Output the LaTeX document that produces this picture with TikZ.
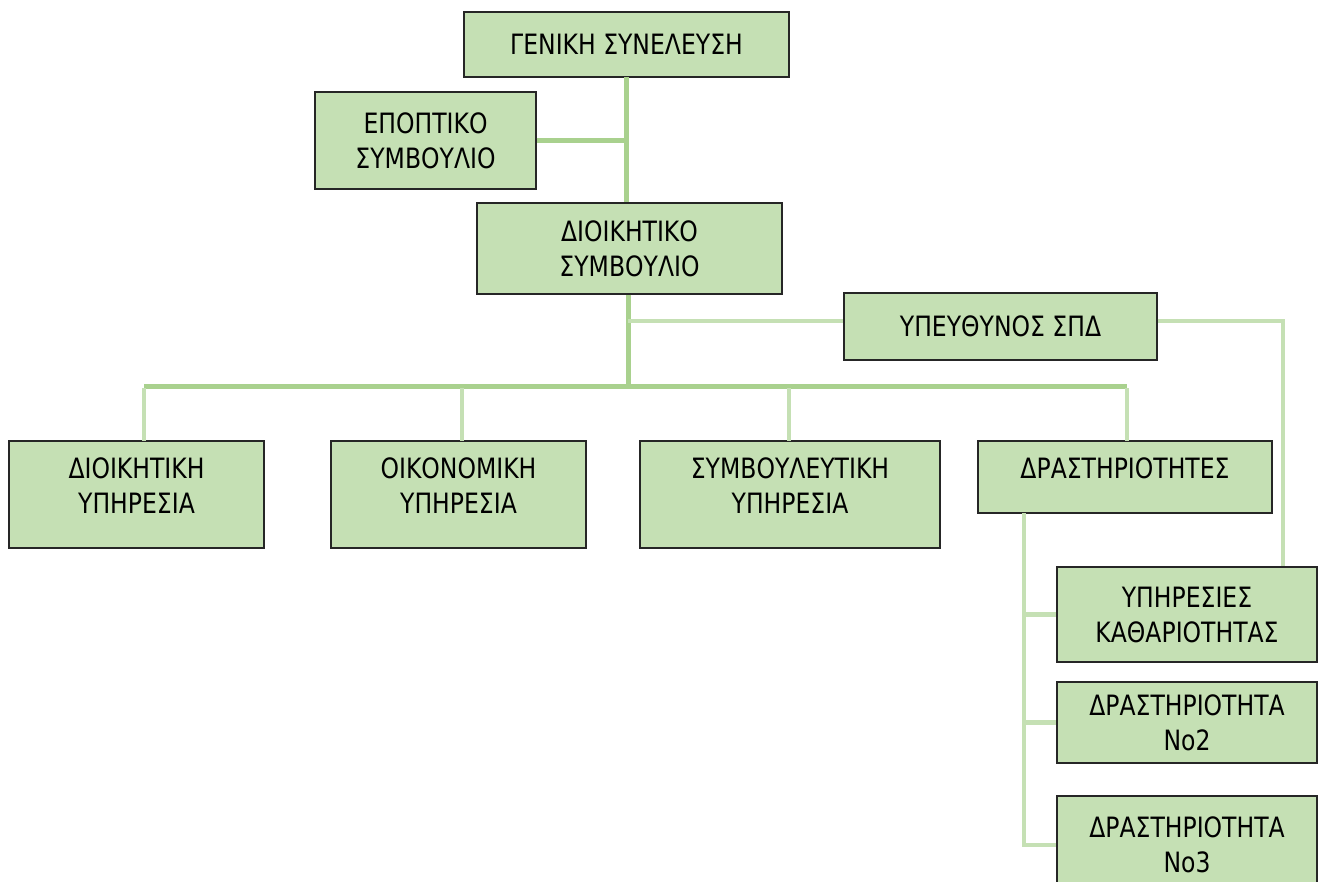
\documentclass[tikz,border=0pt]{standalone}
\usepackage{fontspec}
\setmainfont{DejaVu Sans}[FakeStretch=0.84]
\usepackage{tikz}
\definecolor{boxgreen}{HTML}{C5E0B4}
\definecolor{linkgreen}{HTML}{A9D18E}
\definecolor{paleline}{HTML}{C5E0B4}
\definecolor{boxedge}{HTML}{262626}

\begin{document}
\begin{tikzpicture}[x=1pt, y=1pt,
    orgbox/.style={draw=boxedge, line width=1.4pt, fill=boxgreen, rectangle,
        align=center, inner sep=0pt, font=\fontsize{28}{35}\selectfont},
    lifted/.style={text depth=17pt},
    link/.style={draw=linkgreen, line width=5pt},
    palelink/.style={draw=paleline, line width=4.5pt}]
    % page frame in pixels, y pointing down
    \useasboundingbox (0,0) rectangle (1319,-881);

    % Top of the chart
    \node[orgbox, minimum width=325, minimum height=65] (gs) at (626.5,-44.5) {ΓΕΝΙΚΗ ΣΥΝΕΛΕΥΣΗ};
    \node[orgbox, minimum width=221, minimum height=97] (es) at (425.5,-140.5) {ΕΠΟΠΤΙΚΟ\\ΣΥΜΒΟΥΛΙΟ};
    \node[orgbox, minimum width=305, minimum height=91] (ds) at (629.5,-248.5) {ΔΙΟΙΚΗΤΙΚΟ\\ΣΥΜΒΟΥΛΙΟ};
    \node[orgbox, minimum width=313, minimum height=67] (ys) at (1000.5,-326.5) {ΥΠΕΥΘΥΝΟΣ ΣΠΔ};

    % Services row
    \node[orgbox, lifted, minimum width=255, minimum height=107] (dy) at (136.5,-494.5) {ΔΙΟΙΚΗΤΙΚΗ\\ΥΠΗΡΕΣΙΑ};
    \node[orgbox, lifted, minimum width=255, minimum height=107] (oy) at (458.5,-494.5) {ΟΙΚΟΝΟΜΙΚΗ\\ΥΠΗΡΕΣΙΑ};
    \node[orgbox, lifted, minimum width=300, minimum height=107] (sy) at (790,-494.5) {ΣΥΜΒΟΥΛΕΥΤΙΚΗ\\ΥΠΗΡΕΣΙΑ};
    \node[orgbox, lifted, minimum width=294, minimum height=72] (dr) at (1125,-477) {ΔΡΑΣΤΗΡΙΟΤΗΤΕΣ};

    % Activities column
    \node[orgbox, minimum width=260, minimum height=95] (yk) at (1187,-614.5) {ΥΠΗΡΕΣΙΕΣ\\ΚΑΘΑΡΙΟΤΗΤΑΣ};
    \node[orgbox, minimum width=260, minimum height=81] (d2) at (1187,-722.5) {ΔΡΑΣΤΗΡΙΟΤΗΤΑ\\No2};
    \node[orgbox, minimum width=260, minimum height=98] (d3) at (1187,-845) {ΔΡΑΣΤΗΡΙΟΤΗΤΑ\\No3};

    % Helper points for the links
    \coordinate (top) at (626,-77);
    \coordinate (bus) at (628,-386);
    \coordinate (rt) at (1283,-321);
    \coordinate (sp) at (1024,-513);

    % Main trunk and bus
    \draw[link] (top) -- (top |- ds.north);
    \draw[link] (es.east) -- (top |- es.east);
    \draw[link] (bus |- ds.south) -- (bus);
    \draw[link] (144,-386) -- (1127,-386);

    % Pale links
    \draw[palelink] (bus |- rt) -- (ys.west |- rt);
    \draw[palelink] (ys.east |- rt) -- (rt) -- (rt |- yk.north);
    \foreach \dx in {144,462,789,1127}
        \draw[palelink] (\dx,-388) -- (\dx,-441);
    \draw[palelink] (sp) -- (sp |- d3.west) -- (d3.west);
    \draw[palelink] (sp |- yk.west) -- (yk.west);
    \draw[palelink] (sp |- d2.west) -- (d2.west);
\end{tikzpicture}
\end{document}
